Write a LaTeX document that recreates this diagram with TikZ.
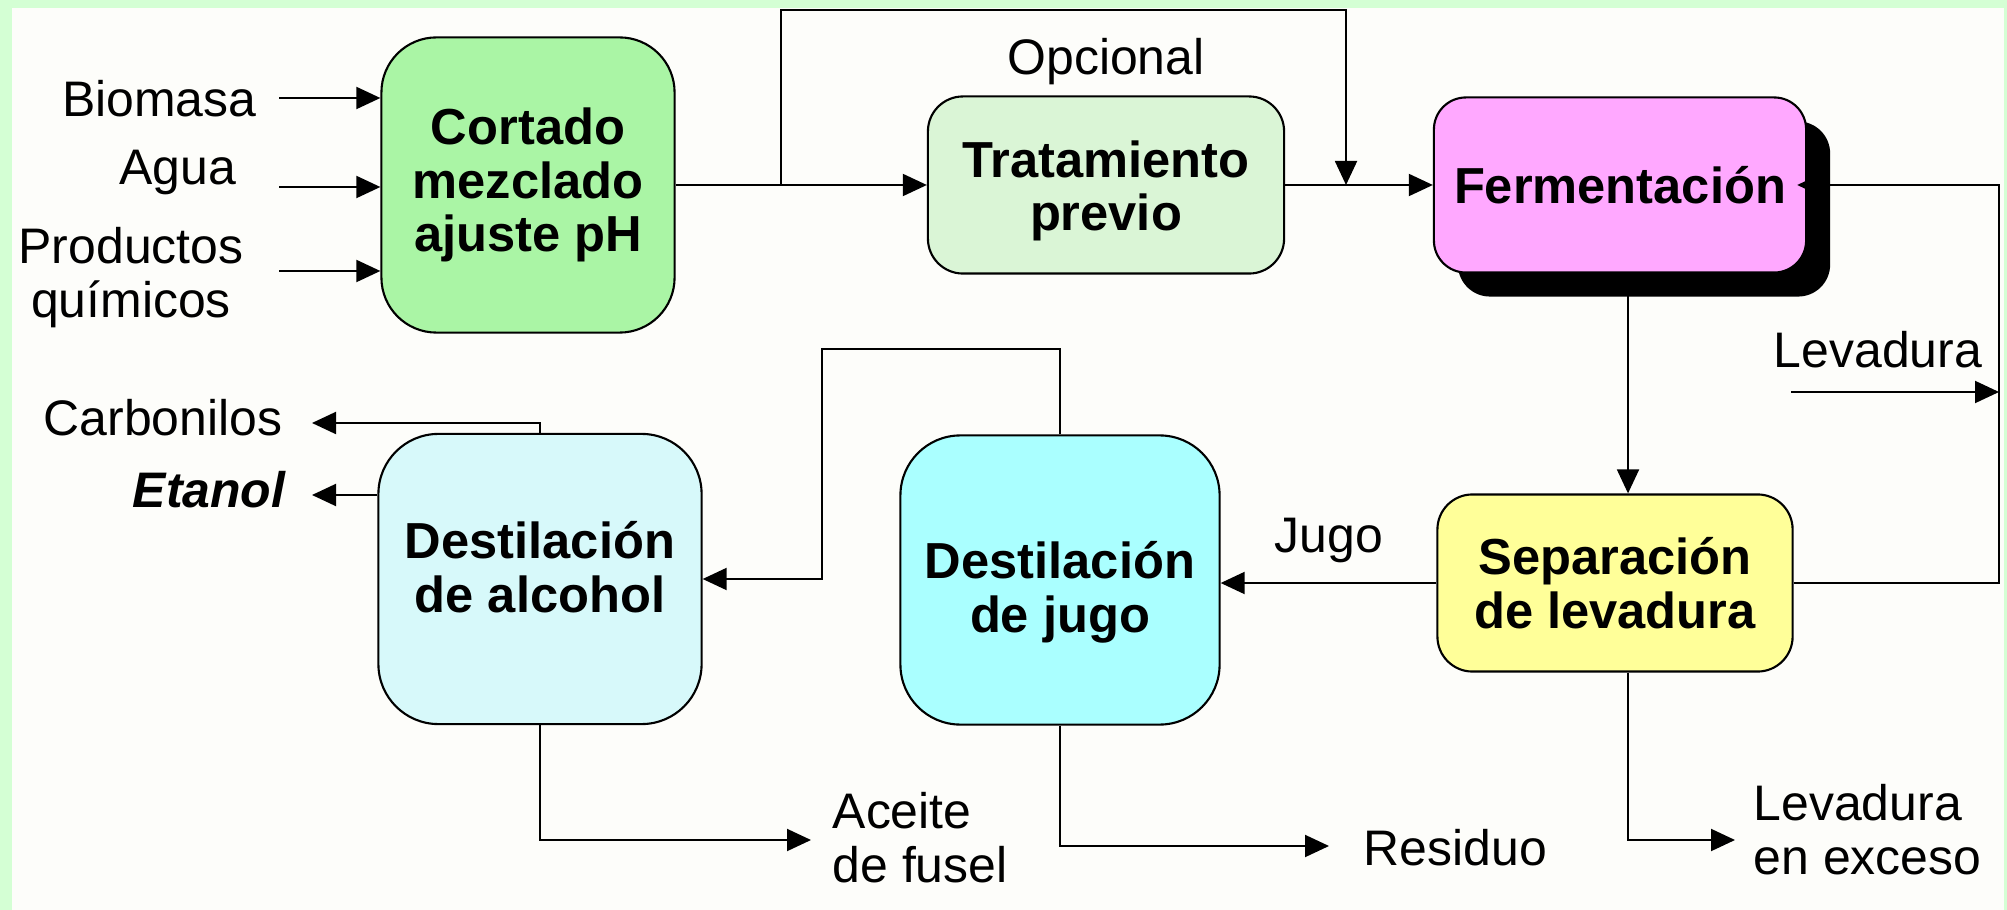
\documentclass[tikz,border=0pt]{standalone}
\usepackage{fontspec}
\setmainfont{Liberation Sans}
\usepackage{tikz}
\usetikzlibrary{arrows.meta, shadows}

\definecolor{mint}{RGB}{212,255,212}
\definecolor{paper}{RGB}{253,253,250}
\definecolor{cutgreen}{RGB}{170,245,165}
\definecolor{pregreen}{RGB}{218,245,214}
\definecolor{fermpink}{RGB}{255,168,255}
\definecolor{sepyellow}{RGB}{255,255,153}
\definecolor{jugocyan}{RGB}{170,255,255}
\definecolor{alcocyan}{RGB}{215,249,250}

\begin{document}
\begin{tikzpicture} [x=0.01cm, y=-0.01cm,
    every node/.style={font=\fontsize{14.2}{15.2}\selectfont, inner sep=0pt},
    box/.style={draw=black, line width=0.6pt, align=center,
        font=\fontsize{14.4}{15.2}\selectfont\bfseries},
    flow/.style={-{Triangle[length=0.24cm, width=0.22cm]}, line width=0.55pt}]

\useasboundingbox (0,0) rectangle (2007,910);
\fill [mint] (0,0) rectangle (2007,910);
\fill [paper] (12,8) rectangle (2004,910);

\node (corte) [box, fill=cutgreen, minimum width=2.93cm, minimum height=2.95cm, rounded corners=0.55cm] at (528, 185) {Cortado\\mezclado\\ajuste pH};

\node (trat) [box, fill=pregreen, minimum width=3.56cm, minimum height=1.77cm, rounded corners=0.35cm] at (1106, 185) {\rule{0pt}{0.48cm}Tratamiento\\previo};

\node (ferm) [box, fill=fermpink, minimum width=3.72cm, minimum height=1.75cm, rounded corners=0.32cm,
    drop shadow={shadow xshift=0.24cm, shadow yshift=-0.24cm, fill=black, opacity=1}] at (1620, 185) {Fermentación};

\node (sep) [box, fill=sepyellow, minimum width=3.55cm, minimum height=1.77cm, rounded corners=0.35cm] at (1615, 583) {Separación\\de levadura};

\node (djugo) [box, fill=jugocyan, minimum width=3.19cm, minimum height=2.89cm, rounded corners=0.6cm] at (1060, 580) {\rule{0pt}{0.62cm}Destilación\\de jugo};

\node (dalc) [box, fill=alcocyan, minimum width=3.23cm, minimum height=2.9cm, rounded corners=0.6cm] at (540, 579) {Destilación\\de alcohol\rule[-0.24cm]{0pt}{0pt}};

% Labels
\node (bio) [anchor=base east] at (257, 117) {Biomasa};
\node (agua) [anchor=base east] at (237, 185) {Agua};
\node (quim) [anchor=north, align=center] at (131, 227) {Productos\\químicos};
\node (opc) [anchor=base] at (1106, 75) {Opcional};
\node (lev) [anchor=base] at (1878, 368) {Levadura};
\node (jugo) [anchor=base west] at (1274, 553) {Jugo};
\node (carb) [anchor=base east] at (283, 436) {Carbonilos};
\node (eta) [anchor=base east, font=\fontsize{14.2}{15.2}\selectfont\bfseries\itshape] at (286, 508) {Etanol};
\node (fusel) [anchor=north west, align=left] at (832, 792) {Aceite\\de fusel};
\node (res) [anchor=base west] at (1363, 865) {Residuo};
\node (exc) [anchor=north west, align=left] at (1753, 784) {Levadura\\en exceso};

\coordinate (bioin) at (279, 98);
\coordinate (aguain) at (279, 187);
\coordinate (quimin) at (279, 271);
\coordinate (split) at (781, 185);
\coordinate (join) at (1346, 185);
\coordinate (rightx) at (1999, 0);
\coordinate (levin) at (1791, 392);
\coordinate (dropx) at (1628, 0);
\coordinate (hop) at (822, 349);
\coordinate (carbout) at (312, 423);
\coordinate (etaout) at (312, 495);
\coordinate (fuselout) at (811, 840);
\coordinate (resout) at (1329, 846);
\coordinate (excout) at (1735, 840);

% Arrows
\draw [flow] (bioin) -- (bioin -| corte.west);
\draw [flow] (aguain) -- (aguain -| corte.west);
\draw [flow] (quimin) -- (quimin -| corte.west);
\draw [flow] (corte) -- (trat);
\draw [flow] (split) -- ++(0,-175) -| (join);
\draw [flow] (trat) -- (ferm);
\draw [flow, shorten >=-0.1cm] (sep.east) -- (sep.east -| rightx) |- (ferm.east);
\draw [flow] (levin) -- (levin -| rightx);
\draw [flow] (ferm.south -| dropx) -- (sep.north -| dropx);
\draw [flow] (sep.west) -- (sep.west -| djugo.east);
\draw [flow] (djugo.north) |- (hop) |- (dalc.east);
\draw [flow] (dalc.north) |- (carbout);
\draw [flow] (etaout -| dalc.west) -- (etaout);
\draw [flow] (dalc.south) |- (fuselout);
\draw [flow] (djugo.south) |- (resout);
\draw [flow] (sep.south -| dropx) |- (excout);
\end{tikzpicture}
\end{document}
